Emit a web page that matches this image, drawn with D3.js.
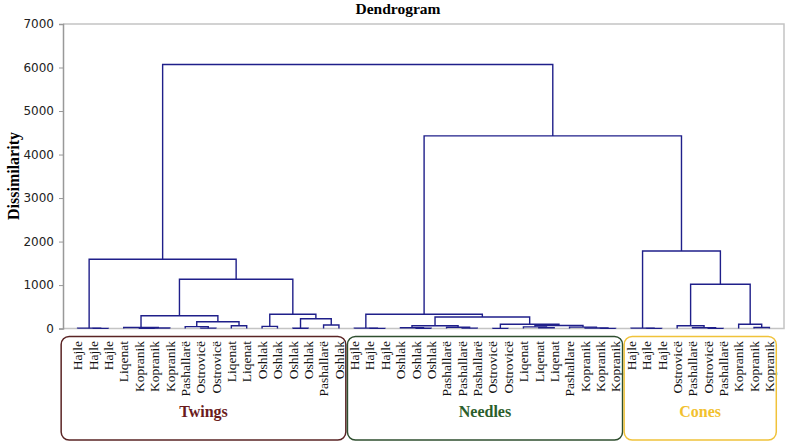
<!DOCTYPE html>
<html>
<head>
<meta charset="utf-8">
<script src="https://cdnjs.cloudflare.com/ajax/libs/d3/7.8.5/d3.min.js"></script>
<style>
body { margin: 0; background: #fff; }
.leaf { font-family: "Liberation Serif", "Times New Roman", serif; font-size: 13.5px; fill: #111; }
.tick-label { font-family: "DejaVu Sans", Verdana, sans-serif; font-size: 12px; fill: #222; }
.link { fill: none; stroke: #1f1f8a; stroke-width: 1.4px; }
</style>
</head>
<body>
<div id="chart"></div>
<script>
// leaves, left to right
var leafNames = [
    'Hajle', 'Hajle', 'Hajle', 'Liqenat', 'Kopranik', 'Kopranik', 'Kopranik', 'Pashallarë', 'Ostrovicë',
    'Ostrovicë', 'Liqenat', 'Liqenat', 'Oshlak', 'Oshlak', 'Oshlak', 'Oshlak', 'Pashallarë', 'Oshlak',
    'Hajle', 'Hajle', 'Hajle', 'Oshlak', 'Oshlak', 'Oshlak', 'Pashallarë', 'Pashallarë', 'Pashallarë',
    'Ostrovicë', 'Ostrovicë', 'Liqenat', 'Liqenat', 'Liqenat', 'Pashallare', 'Kopranik', 'Kopranik', 'Kopranik',
    'Hajle', 'Hajle', 'Hajle', 'Ostrovicë', 'Pashallarë', 'Ostrovicë', 'Pashallarë', 'Kopranik', 'Kopranik', 'Kopranik'
];
var groupNames = ['Twings', 'Needles', 'Cones'];
var groupSizes = [18, 18, 10];

// linkage: [childA, childB, dissimilarity], new cluster ids start at 46
var merges = [
    [1, 2, 5], [0, 46, 10], [4, 5, 5], [48, 6, 15], [3, 49, 25],
    [8, 9, 10], [7, 51, 45], [10, 11, 67], [52, 53, 159], [50, 54, 297],
    [12, 13, 52], [14, 15, 8], [16, 17, 83], [57, 58, 228], [56, 59, 329],
    [55, 60, 1133], [47, 61, 1593],
    [19, 20, 5], [18, 63, 12], [22, 23, 8], [21, 65, 20], [25, 26, 10],
    [24, 67, 30], [66, 68, 67], [27, 28, 6], [30, 31, 20], [29, 71, 40],
    [34, 35, 5], [33, 73, 15], [32, 74, 35], [72, 75, 70], [70, 76, 99],
    [69, 77, 267], [64, 78, 329],
    [37, 38, 5], [36, 80, 12], [41, 42, 5], [40, 82, 20], [39, 83, 67],
    [44, 45, 25], [43, 85, 99], [84, 86, 1018], [81, 87, 1784],
    [79, 88, 4428], [62, 89, 6070]
];
var yTicks = [0, 1000, 2000, 3000, 4000, 5000, 6000, 7000];

var groupStyle = {
    Twings: { stroke: '#5a2424', text: '#6a1c1c' },
    Needles: { stroke: '#2f4f2f', text: '#2b5e2b' },
    Cones: { stroke: '#f0c23a', text: '#f2c12e' }
};

(function () {
    'use strict';
    var width = 785, height = 442;
    var plot = { left: 63, right: 784, top: 24, bottom: 328.6 };

    var svg = d3.select('#chart').append('svg')
        .attr('width', width)
        .attr('height', height);

    var x = d3.scalePoint()
        .domain(d3.range(leafNames.length))
        .range([plot.left, plot.right])
        .padding(0.95);
    var y = d3.scaleLinear()
        .domain([0, 7000])
        .range([plot.bottom, plot.top]);
    var step = x.step();

    // frame
    svg.append('path')
        .attr('d', 'M' + plot.left + ',' + plot.top + 'H' + plot.right + 'V' + plot.bottom + 'H' + plot.left)
        .attr('fill', 'none')
        .attr('stroke', '#c4c4c4')
        .attr('stroke-width', 1.5);

    var yAxis = svg.append('g')
        .attr('transform', 'translate(' + plot.left + ',0)')
        .call(d3.axisLeft(y).tickValues(yTicks).tickSize(4).tickPadding(5).tickFormat(d3.format('d')));
    yAxis.select('.domain').attr('stroke', '#999').attr('stroke-width', 1.5);
    yAxis.selectAll('.tick line').attr('stroke', '#999');
    yAxis.selectAll('.tick text').attr('class', 'tick-label').attr('font-family', null).attr('font-size', null);

    // node positions
    var nodes = leafNames.map(function (name, i) {
        return { x: x(i), h: 0 };
    });
    merges.forEach(function (m) {
        nodes.push({ x: (nodes[m[0]].x + nodes[m[1]].x) / 2, h: m[2], a: m[0], b: m[1] });
    });

    svg.append('g').selectAll('path')
        .data(nodes.filter(function (n) { return n.a !== undefined; }))
        .enter().append('path')
        .attr('class', 'link')
        .attr('d', function (n) {
            var a = nodes[n.a], b = nodes[n.b];
            return 'M' + a.x + ',' + y(a.h) + 'V' + y(n.h) + 'H' + b.x + 'V' + y(b.h);
        });

    // leaf labels
    svg.append('g').selectAll('text')
        .data(leafNames)
        .enter().append('text')
        .attr('class', 'leaf')
        .attr('text-anchor', 'end')
        .attr('dy', '0.35em')
        .attr('transform', function (d, i) {
            return 'translate(' + x(i) + ',341) rotate(-90)';
        })
        .text(function (d) { return d; });

    // group boxes
    var start = 0;
    groupNames.forEach(function (g, gi) {
        var first = start, last = start + groupSizes[gi] - 1;
        start += groupSizes[gi];
        var x0 = gi === 0 ? x(first) - step * 1.07 : x(first) - step / 2 + 0.8;
        var x1 = x(last) + step / 2 - 0.8;
        svg.append('rect')
            .attr('x', x0)
            .attr('y', 336.5)
            .attr('width', x1 - x0)
            .attr('height', 103.5)
            .attr('rx', 8)
            .attr('fill', 'none')
            .attr('stroke', groupStyle[g].stroke)
            .attr('stroke-width', 1.5);
        svg.append('text')
            .attr('x', (x0 + x1) / 2)
            .attr('y', 417)
            .attr('text-anchor', 'middle')
            .attr('font-family', '"Liberation Serif", serif')
            .attr('font-weight', 'bold')
            .attr('font-size', '16px')
            .attr('fill', groupStyle[g].text)
            .text(g);
    });

    svg.append('text')
        .attr('x', 398)
        .attr('y', 14)
        .attr('text-anchor', 'middle')
        .attr('font-family', '"Liberation Serif", serif')
        .attr('font-weight', 'bold')
        .attr('font-size', '15.5px')
        .text('Dendrogram');

    svg.append('text')
        .attr('transform', 'translate(13,176) rotate(-90)')
        .attr('text-anchor', 'middle')
        .attr('dy', '0.35em')
        .attr('font-family', '"Liberation Serif", serif')
        .attr('font-weight', 'bold')
        .attr('font-size', '16px')
        .text('Dissimilarity');
})();
</script>
</body>
</html>
